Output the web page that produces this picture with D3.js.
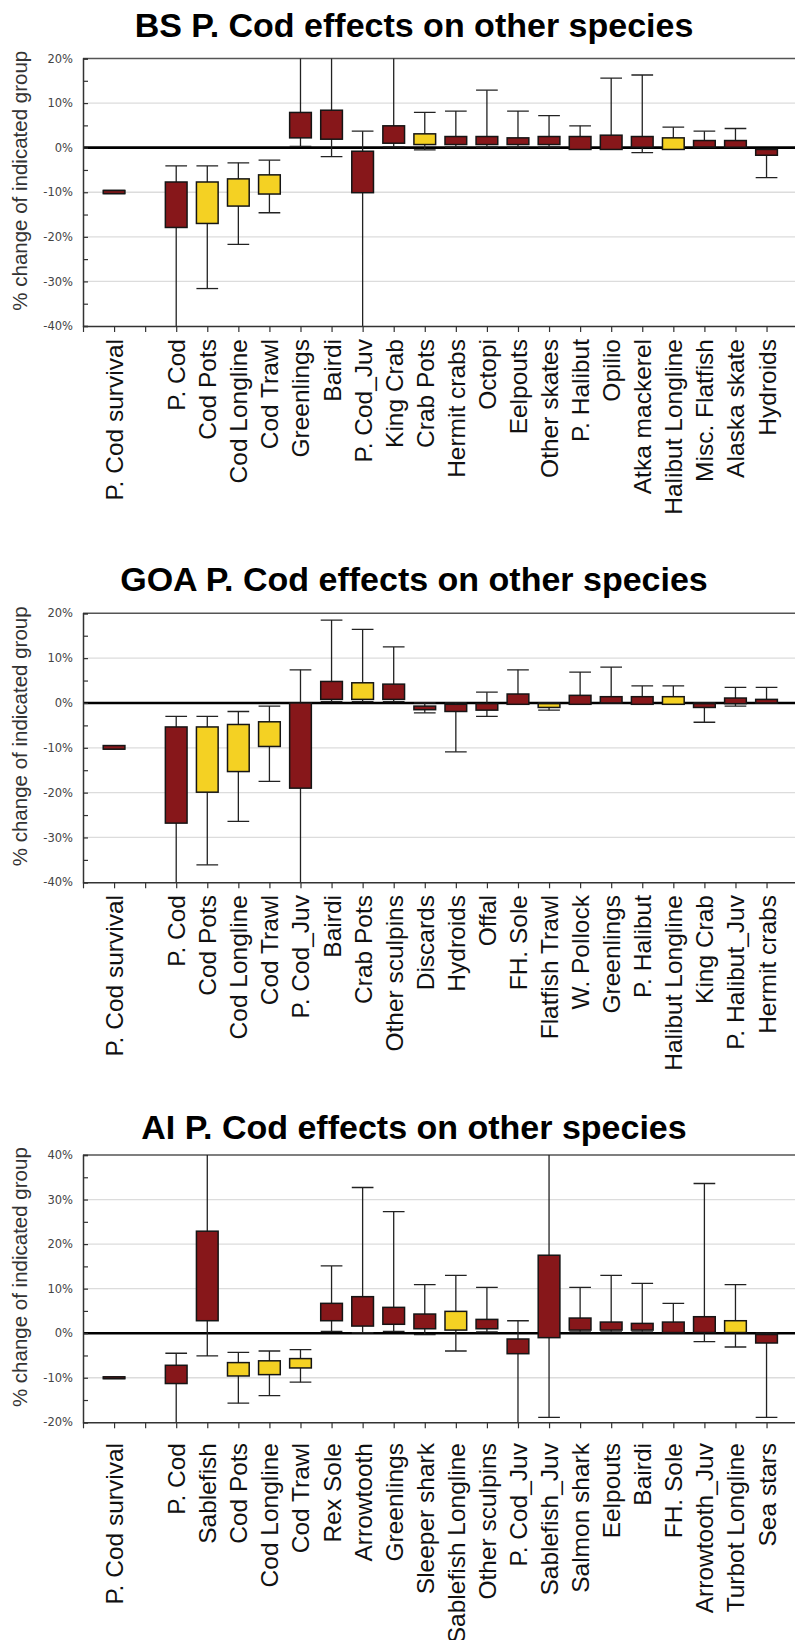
<!DOCTYPE html>
<html>
<head>
<meta charset="utf-8">
<script src="https://cdn.jsdelivr.net/npm/d3@7"></script>
<style>
  body { margin: 0; background: #fff; }
  svg { display: block; }
</style>
</head>
<body>
<div class="chartBox"><svg></svg></div>
<script>
"use strict";

const WIDTH = 795;
const HEIGHT = 1640;
const RED = '#87171a';
const YELLOW = '#f4d123';

// BS
const bsLabels = ['P. Cod survival','P. Cod','Cod Pots','Cod Longline','Cod Trawl','Greenlings','Bairdi','P. Cod_Juv','King Crab','Crab Pots','Hermit crabs','Octopi','Eelpouts','Other skates','P. Halibut','Opilio','Atka mackerel','Halibut Longline','Misc. Flatfish','Alaska skate','Hydroids'];
const bsBoxLow   = [-10.3,-17.9,-17.0,-13.1,-10.4, 2.2, 1.9,-10.1, 1.0, 0.7, 0.7, 0.7, 0.7, 0.7,-0.4,-0.4, 0.1,-0.4, 0.15, 0.1,-1.7];
const bsBoxHigh  = [ -9.6, -7.7, -7.7, -7.0, -6.1, 7.9, 8.4, -0.8, 4.9, 3.1, 2.5, 2.5, 2.2, 2.5, 2.5, 2.8, 2.5, 2.2, 1.6, 1.6,-0.4];
const bsWhiskLow = [-10.3,-45,-31.6,-21.7,-14.6, 0.3,-2.0,-45, 0.2,-0.5, 0.15, 0.15, 0.15, 0.15,-0.4,-0.4,-1.1,-0.4, 0.15, 0.1,-6.7];
const bsWhiskHigh= [ -9.6, -4.1, -4.1, -3.4, -2.8, 25, 25, 3.7, 25, 7.9, 8.2,12.9, 8.2, 7.2, 4.9,15.6,16.3, 4.6, 3.7, 4.3,-0.4];
const bsFleet    = [0,0,1,1,1,0,0,0,0,1,0,0,0,0,0,0,0,1,0,0,0];

// GOA
const goaLabels = ['P. Cod survival','P. Cod','Cod Pots','Cod Longline','Cod Trawl','P. Cod_Juv','Bairdi','Crab Pots','Other sculpins','Discards','Hydroids','Offal','FH. Sole','Flatfish Trawl','W. Pollock','Greenlings','P. Halibut','Halibut Longline','King Crab','P. Halibut_Juv','Hermit crabs'];
const goaBoxLow   = [-10.3,-26.8,-19.9,-15.3,-9.7,-19.0, 0.8, 0.8, 0.8,-1.5,-1.9,-1.6,-0.3,-1.0,-0.3, 0.0,-0.3,-0.3,-1.0,-0.15, 0.0];
const goaBoxHigh  = [ -9.5, -5.35,-5.35,-4.8,-4.2, 0.0, 4.8, 4.5, 4.2,-0.7,-0.3,-0.15, 2.0,-0.15, 1.7, 1.4, 1.4, 1.4,-0.15, 1.1, 0.8];
const goaWhiskLow = [-10.3,-45,-36.1,-26.4,-17.5,-45, 0.3, 0.3, 0.3,-2.2,-10.9,-3.0,-0.3,-1.6,-0.3, 0.0,-0.3,-0.3,-4.3,-0.7, 0.0];
const goaWhiskHigh= [ -9.5, -3.0,-3.0,-1.9,-0.7, 7.4,18.5,16.4,12.5, 0.0, 0.0, 2.4, 7.4, 0.0, 6.9, 8.0, 3.8, 3.8, 0.0, 3.5, 3.5];
const goaFleet    = [0,0,1,1,1,0,0,1,0,0,0,0,0,1,0,0,0,1,0,0,0];

// AI
const aiLabels = ['P. Cod survival','P. Cod','Sablefish','Cod Pots','Cod Longline','Cod Trawl','Rex Sole','Arrowtooth','Greenlings','Sleeper shark','Sablefish Longline','Other sculpins','P. Cod_Juv','Sablefish_Juv','Salmon shark','Eelpouts','Bairdi','FH. Sole','Arrowtooth_Juv','Turbot Longline','Sea stars'];
const aiBoxLow   = [-10.2,-11.3, 2.8,-9.6,-9.3,-7.8, 2.8, 1.6, 2.0, 1.0, 0.7, 1.0,-4.6,-1.0, 0.7, 0.7, 0.7, 0.15, 0.15, 0.15,-2.2];
const aiBoxHigh  = [ -9.8, -7.2,22.9,-6.6,-6.2,-5.7, 6.7, 8.2, 5.8, 4.3, 4.9, 3.1,-1.3,17.5, 3.4, 2.5, 2.2, 2.5, 3.7, 2.8,-0.3];
const aiWhiskLow = [-10.2,-25,-5.1,-15.7,-14.0,-11.0, 0.4, 0.1, 0.4,-0.3,-4.0, 0.3,-25,-18.9, 0.3, 0.3, 0.3, 0.15,-1.9,-3.1,-18.9];
const aiWhiskHigh= [ -9.8, -4.5,45,-4.3,-4.0,-3.7,15.1,32.7,27.3,10.9,13.0,10.3, 2.8,45,10.3,13.0,11.2, 6.7,33.6,10.9, 0.0];
const aiFleet    = [0,0,0,1,1,1,0,0,0,0,1,0,0,0,0,0,0,0,0,1,0];

const charts = [
  {title: 'BS P. Cod effects on other species', titleY: 36.5, top: 58.5, bottom: 326, yDomain: [-40, 20], labelY: 339,
   labels: bsLabels, lo: bsBoxLow, hi: bsBoxHigh, wlo: bsWhiskLow, whi: bsWhiskHigh, fleet: bsFleet},
  {title: 'GOA P. Cod effects on other species', titleY: 591, top: 613.3, bottom: 882.3, yDomain: [-40, 20], labelY: 895,
   labels: goaLabels, lo: goaBoxLow, hi: goaBoxHigh, wlo: goaWhiskLow, whi: goaWhiskHigh, fleet: goaFleet},
  {title: 'AI P. Cod effects on other species', titleY: 1139, top: 1155, bottom: 1422.3, yDomain: [-20, 40], labelY: 1443,
   labels: aiLabels, lo: aiBoxLow, hi: aiBoxHigh, wlo: aiWhiskLow, whi: aiWhiskHigh, fleet: aiFleet}
];

const svg = d3.select('.chartBox').select('svg')
    .attr('width', WIDTH)
    .attr('height', HEIGHT);

const LEFT = 83;
const x = d3.scaleLinear().domain([0, 23]).range([LEFT, LEFT + 23 * 31.07]);
const boxW = 21.7;

// slot 1 is survival, slot 2 left empty, species from slot 3
function slot(i){ return i === 0 ? 1 : i + 2; }

charts.forEach((c, ci) => {
  const g = svg.append('g');
  const y = d3.scaleLinear().domain(c.yDomain).range([c.bottom, c.top]);

  g.append('text')
    .attr('x', 414)
    .attr('y', c.titleY)
    .attr('text-anchor', 'middle')
    .style('font-family', '"Liberation Sans", Arial, sans-serif')
    .style('font-weight', 'bold')
    .style('font-size', '34px')
    .attr('fill', '#000')
    .text(c.title);

  // grid
  const gridVals = d3.range(c.yDomain[0] + 10, c.yDomain[1], 10).filter(v => v !== 0);
  g.append('g').selectAll('line')
    .data(gridVals)
    .join('line')
    .attr('x1', LEFT).attr('x2', WIDTH + 5)
    .attr('y1', d => y(d)).attr('y2', d => y(d))
    .attr('stroke', '#dcdcdc')
    .attr('stroke-width', 1.3);

  // top border
  g.append('line')
    .attr('x1', LEFT).attr('x2', WIDTH + 5)
    .attr('y1', c.top).attr('y2', c.top)
    .attr('stroke', '#555')
    .attr('stroke-width', 1.5);

  // zero line
  g.append('line')
    .attr('x1', LEFT).attr('x2', WIDTH + 5)
    .attr('y1', y(0)).attr('y2', y(0))
    .attr('stroke', '#000')
    .attr('stroke-width', 2.6);

  const clipId = 'clip' + ci;
  svg.append('clipPath').attr('id', clipId)
    .append('rect')
    .attr('x', LEFT).attr('y', c.top)
    .attr('width', WIDTH + 10 - LEFT).attr('height', c.bottom - c.top);

  const items = c.labels.map((name, i) => ({
    name, s: slot(i), lo: c.lo[i], hi: c.hi[i], wlo: c.wlo[i], whi: c.whi[i], fleet: c.fleet[i]
  }));

  const marks = g.append('g').attr('clip-path', `url(#${clipId})`);

  // whiskers
  marks.append('g').selectAll('line')
    .data(items)
    .join('line')
    .attr('x1', d => x(d.s)).attr('x2', d => x(d.s))
    .attr('y1', d => y(d.wlo)).attr('y2', d => y(d.whi))
    .attr('stroke', '#222')
    .attr('stroke-width', 1.3);

  const caps = items.flatMap(d => [[d.s, d.wlo], [d.s, d.whi]]);
  marks.append('g').selectAll('line')
    .data(caps)
    .join('line')
    .attr('x1', d => x(d[0]) - boxW / 2).attr('x2', d => x(d[0]) + boxW / 2)
    .attr('y1', d => y(d[1])).attr('y2', d => y(d[1]))
    .attr('stroke', '#222')
    .attr('stroke-width', 1.3);

  // boxes
  marks.append('g').selectAll('rect')
    .data(items)
    .join('rect')
    .attr('x', d => x(d.s) - boxW / 2)
    .attr('width', boxW)
    .attr('y', d => y(d.hi))
    .attr('height', d => Math.max(y(d.lo) - y(d.hi), 0.5))
    .attr('fill', d => d.fleet ? YELLOW : RED)
    .attr('stroke', '#151515')
    .attr('stroke-width', 1.5);

  // y axis
  const yTicks = d3.range(c.yDomain[0], c.yDomain[1] + 1, 5);
  const yAxis = d3.axisLeft(y)
    .tickValues(yTicks)
    .tickSize(-5)
    .tickPadding(10)
    .tickFormat(d => d % 10 === 0 ? d + '%' : '');
  const ya = g.append('g')
    .attr('transform', `translate(${LEFT},0)`)
    .call(yAxis);
  ya.select('.domain').attr('stroke', '#333').attr('stroke-width', 1.5);
  ya.selectAll('.tick line').attr('stroke', '#333').attr('stroke-width', 1.2);
  ya.selectAll('.tick text')
    .style('font-family', '"DejaVu Sans", Verdana, sans-serif')
    .style('font-size', '11.5px')
    .attr('fill', '#444');

  // x axis
  const xAxis = d3.axisBottom(x)
    .tickValues(d3.range(0, 23))
    .tickSize(6)
    .tickSizeOuter(0)
    .tickFormat('');
  const xa = g.append('g')
    .attr('transform', `translate(0,${c.bottom})`)
    .call(xAxis);
  xa.select('.domain').attr('stroke', '#333').attr('stroke-width', 1.5);
  xa.selectAll('.tick line').attr('stroke', '#333').attr('stroke-width', 1.2);

  g.append('g').selectAll('text')
    .data(items)
    .join('text')
    .attr('transform', d => `translate(${x(d.s) + 9},${c.labelY}) rotate(-90)`)
    .attr('text-anchor', 'end')
    .style('font-family', '"Liberation Sans", Arial, sans-serif')
    .style('font-size', '24.5px')
    .attr('fill', '#111')
    .text(d => d.name);

  // y title
  g.append('text')
    .attr('transform', `translate(27,${(c.top + c.bottom) / 2 - 11.5}) rotate(-90)`)
    .attr('text-anchor', 'middle')
    .style('font-family', '"Liberation Sans", Arial, sans-serif')
    .style('font-size', '20.5px')
    .attr('fill', '#333')
    .text('% change of indicated group');
});
</script>
</body>
</html>
